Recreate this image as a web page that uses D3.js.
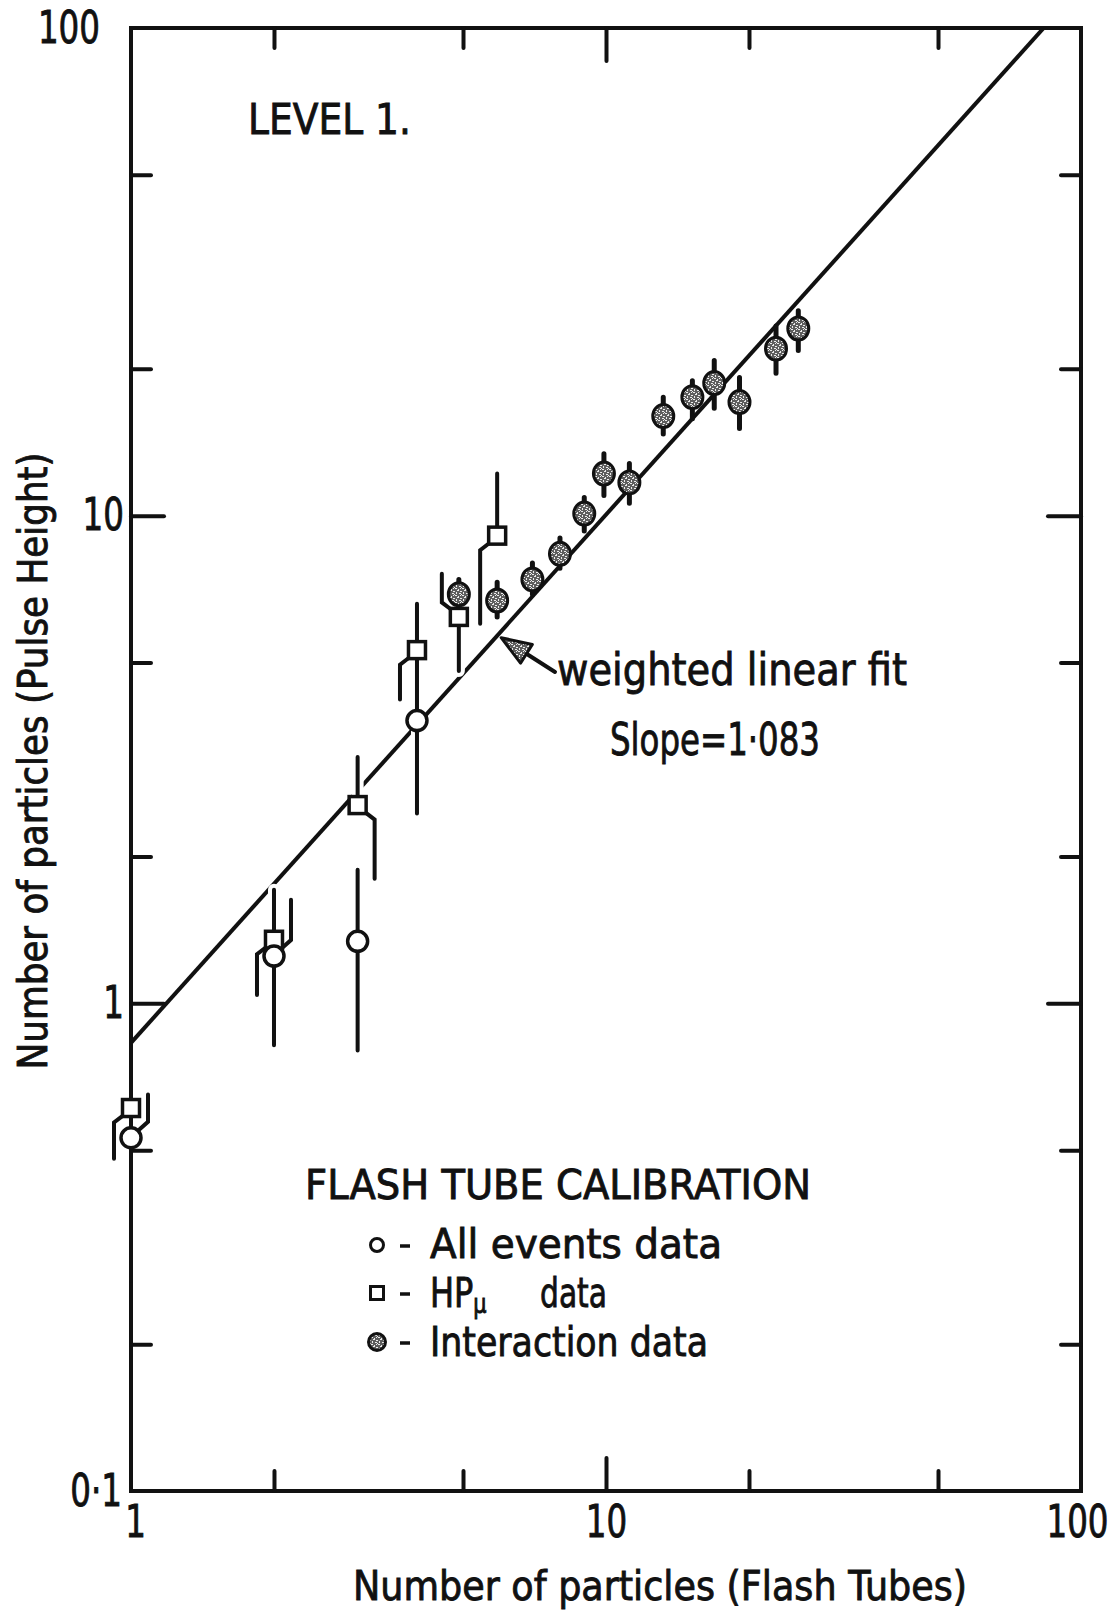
<!DOCTYPE html>
<html>
<head>
<meta charset="utf-8">
<script src="https://cdn.jsdelivr.net/npm/d3@7"></script>
<style>
  body { margin: 0; background: #fff; }
  svg { display: block; }
  text { font-family: "DejaVu Sans", sans-serif; fill: #111; stroke: #111; stroke-width: 0.9px; }
</style>
</head>
<body>
<svg id="chart" width="1116" height="1613"></svg>
<script>
// Flash tube calibration, level 1: pulse height vs flash tube particle counts

// "All events" data (open circles)
const allEventsX  = [1, 2, 3, 4];
const allEventsY  = [0.53, 1.25, 1.34, 3.8];
const allEventsLo = [0.27, 0.82, 0.80, 2.45];
const allEventsHi = [0.65, 1.63, 1.88, 5.3];

// HP-mu data (open squares)
const hpmuX  = [1, 2, 3, 4, 4.9, 5.9];
const hpmuY  = [0.61, 1.35, 2.55, 5.3, 6.2, 9.1];
const hpmuLo = [0.48, 1.04, 1.80, 4.2, 4.8, 6.0];
const hpmuHi = [0.70, 1.71, 3.2, 6.6, 7.6, 12.2];

// Interaction data (stippled discs)
const interX  = [4.9, 5.9, 7.0, 8.0, 9.0, 9.9, 11.2, 13.2, 15.2, 16.9, 19.1, 22.8, 25.4];
const interY  = [6.9, 6.7, 7.4, 8.35, 10.1, 12.2, 11.7, 16.0, 17.5, 18.7, 17.1, 22.0, 24.2];
const interLo = [6.4, 6.2, 6.9, 7.8, 9.3, 11.0, 10.6, 14.7, 15.8, 16.6, 15.1, 19.6, 21.8];
const interHi = [7.4, 7.3, 8.0, 9.0, 10.9, 13.4, 12.8, 17.5, 18.9, 20.8, 19.2, 24.5, 26.3];

// Which half of an error bar is set aside (and to which side) so it clears a neighbouring marker
const allEventsDodge = ["up+", "up+", "", ""];
const hpmuDodge      = ["lo-", "lo-", "lo+", "lo-", "up-", "lo-"];

// Weighted linear fit in log-log space
const fitSlope = 1.083;
const fitNorm  = 0.83;   // fitted value at x = 1

// Axis ticks and labels
const xTicksMinor = [2, 5, 20, 50];
const xTicksMajor = [10];
const yTicksMinor = [0.2, 0.5, 2, 5, 20, 50];
const yTicksMajor = [1, 10];
const xTickLabels = [1, 10, 100];
const yTickLabels = [0.1, 1, 10, 100];

const ink = "#111";
const svg = d3.select("#chart");

const x = d3.scaleLog().domain([1, 100]).range([131, 1081]);
const y = d3.scaleLog().domain([0.1, 100]).range([1491, 28]);

// stipple texture for the interaction markers and the arrow head
const defs = svg.append("defs");
const pat = defs.append("pattern").attr("id", "stipple")
  .attr("patternUnits", "userSpaceOnUse").attr("width", 7).attr("height", 7);
pat.append("rect").attr("width", 7).attr("height", 7).attr("fill", "#5e5e5e");
[[0, 0, 2, 1], [3, 1, 1, 2], [5, 3, 2, 1], [1, 4, 1, 2], [4, 5, 2, 1], [6, 6, 1, 1], [2, 2, 1, 1], [5, 0, 1, 1]]
  .forEach(s => pat.append("rect").attr("x", s[0]).attr("y", s[1])
    .attr("width", s[2]).attr("height", s[3]).attr("fill", "#ececec"));

defs.append("clipPath").attr("id", "plotClip").append("rect")
  .attr("x", x.range()[0]).attr("y", y.range()[1])
  .attr("width", x.range()[1] - x.range()[0]).attr("height", y.range()[0] - y.range()[1]);

// ---- fit line ----
const fit = v => fitNorm * Math.pow(v, fitSlope);
const fitEnd = Math.pow(100 / fitNorm, 1 / fitSlope);
svg.append("path")
  .datum([1, fitEnd])
  .attr("clip-path", "url(#plotClip)")
  .attr("d", d3.line().x(d => x(d)).y(d => y(fit(d))))
  .attr("fill", "none").attr("stroke", ink).attr("stroke-width", 4);

// ---- point records ----
function build(xs, ys, lo, hi, dodge, shape, half) {
  return xs.map((v, i) => ({ x: v, y: ys[i], lo: lo[i], hi: hi[i], dodge: dodge ? dodge[i] : "", shape, half }));
}
const allPts   = build(allEventsX, allEventsY, allEventsLo, allEventsHi, allEventsDodge, "circle", 10);
const hpmuPts  = build(hpmuX, hpmuY, hpmuLo, hpmuHi, hpmuDodge, "square", 8.5);
const interPts = build(interX, interY, interLo, interHi, null, "disc", 10.5);

const sideOffset = 17;
function barPath(p) {
  const cx = x(p.x), cy = y(p.y), h = p.half;
  let d = "";
  ["up", "lo"].forEach(side => {
    const end = y(side === "up" ? p.hi : p.lo);
    const dir = side === "up" ? -1 : 1;
    const s = p.dodge && p.dodge.startsWith(side) ? (p.dodge.endsWith("+") ? 1 : -1) : 0;
    if (!s) d += `M${cx},${cy}V${end}`;
    else d += `M${cx + s * h * 0.75},${cy + dir * h * 0.75}L${cx + s * sideOffset},${cy + dir * (h + 6)}V${end}`;
  });
  return d;
}

const openPts = allPts.concat(hpmuPts);

// white halo so the fit line breaks where the open-marker bars cross it
svg.append("g").selectAll("path").data(openPts).join("path")
  .attr("d", barPath).attr("fill", "none")
  .attr("stroke", "#fff").attr("stroke-width", 12).attr("stroke-linecap", "round");

// ---- frame and ticks ----
svg.append("rect")
  .attr("x", x.range()[0]).attr("y", y.range()[1])
  .attr("width", x.range()[1] - x.range()[0]).attr("height", y.range()[0] - y.range()[1])
  .attr("fill", "none").attr("stroke", ink).attr("stroke-width", 4);

function ticks(axisFn, scale, values, len, tx, ty) {
  svg.append("g").attr("transform", `translate(${tx},${ty})`)
    .call(axisFn(scale).tickValues(values).tickSize(-len).tickFormat(""))
    .call(g => g.select(".domain").remove())
    .selectAll("line").attr("stroke", ink).attr("stroke-width", 4).attr("stroke-linecap", "round");
}
const [x0, x1] = x.range(), [yb, yt] = y.range();
ticks(d3.axisLeft, y, yTicksMinor, 20, x0, 0);
ticks(d3.axisLeft, y, yTicksMajor, 33, x0, 0);
ticks(d3.axisRight, y, yTicksMinor, 20, x1, 0);
ticks(d3.axisRight, y, yTicksMajor, 33, x1, 0);
ticks(d3.axisBottom, x, xTicksMinor, 20, 0, yb);
ticks(d3.axisBottom, x, xTicksMajor, 33, 0, yb);
ticks(d3.axisTop, x, xTicksMinor, 20, 0, yt);
ticks(d3.axisTop, x, xTicksMajor, 33, 0, yt);

// narrow lettering for the tick numbers: glyphs squeezed horizontally
const fmt = d => d === 0.1 ? "0·1" : String(d);
const squeeze = 0.74;
function styleNumbers(sel, shift) {
  sel.attr("font-size", 44).attr("font-family", "DejaVu Sans").attr("fill", ink)
    .attr("transform", `scale(${squeeze},1)`)
    .attr("x", d => shift(d) / squeeze);
}

const yLab = svg.append("g").attr("transform", `translate(${x0},0)`)
  .call(d3.axisLeft(y).tickValues(yTickLabels).tickSize(0).tickPadding(7).tickFormat(fmt));
yLab.select(".domain").remove();
yLab.selectAll("text").call(styleNumbers, d => d === 100 ? -31 : d === 0.1 ? -9 : -7);

const xLab = svg.append("g").attr("transform", `translate(0,${yb})`)
  .call(d3.axisBottom(x).tickValues(xTickLabels).tickSize(0).tickPadding(15).tickFormat(fmt));
xLab.select(".domain").remove();
xLab.selectAll("text").call(styleNumbers, d => d === 100 ? -4 : d === 1 ? 4 : 0);

// ---- error bars ----
svg.append("g").selectAll("path").data(openPts).join("path")
  .attr("d", barPath).attr("fill", "none")
  .attr("stroke", ink).attr("stroke-width", 4).attr("stroke-linecap", "round");
svg.append("g").selectAll("path").data(interPts).join("path")
  .attr("d", barPath).attr("fill", "none")
  .attr("stroke", ink).attr("stroke-width", 5).attr("stroke-linecap", "round");

// ---- markers ----
svg.append("g").selectAll("rect").data(hpmuPts).join("rect")
  .attr("x", d => x(d.x) - d.half).attr("y", d => y(d.y) - d.half)
  .attr("width", d => 2 * d.half).attr("height", d => 2 * d.half)
  .attr("fill", "#fff").attr("stroke", ink).attr("stroke-width", 3.5);
svg.append("g").selectAll("circle").data(allPts).join("circle")
  .attr("cx", d => x(d.x)).attr("cy", d => y(d.y)).attr("r", d => d.half)
  .attr("fill", "#fff").attr("stroke", ink).attr("stroke-width", 3.5);
svg.append("g").selectAll("ellipse").data(interPts).join("ellipse")
  .attr("cx", d => x(d.x)).attr("cy", d => y(d.y)).attr("rx", d => d.half).attr("ry", d => d.half + 1)
  .attr("fill", "url(#stipple)").attr("stroke", ink).attr("stroke-width", 3);

// ---- annotations ----
function label(txt, px, py, size, len) {
  const t = svg.append("text").attr("x", px).attr("y", py).attr("font-size", size).text(txt);
  if (len) t.attr("textLength", len).attr("lengthAdjust", "spacingAndGlyphs");
  return t;
}

label("LEVEL 1.", 248, 134, 42, 163);

// arrow to the fit line
const tip = [x(5.9) + 4, y(fit(5.9)) + 2];
const tail = [555, 672];
const ux = tip[0] - tail[0], uy = tip[1] - tail[1], ul = Math.hypot(ux, uy);
const ex = ux / ul, ey = uy / ul;
const baseMid = [tip[0] - ex * 30, tip[1] - ey * 30];
svg.append("line").attr("x1", tail[0]).attr("y1", tail[1]).attr("x2", baseMid[0]).attr("y2", baseMid[1])
  .attr("stroke", ink).attr("stroke-width", 4).attr("stroke-linecap", "round");
svg.append("path")
  .attr("d", `M${tip[0]},${tip[1]}L${baseMid[0] - ey * 11},${baseMid[1] + ex * 11}L${baseMid[0] + ey * 11},${baseMid[1] - ex * 11}Z`)
  .attr("fill", "url(#stipple)").attr("stroke", ink).attr("stroke-width", 3).attr("stroke-linejoin", "round");

label("weighted linear fit", 557, 685, 44, 350);
label("Slope=1·083", 610, 755, 44, 210);

// ---- legend ----
label("FLASH TUBE CALIBRATION", 305, 1199, 40, 506);
const rows = [1245, 1293, 1342];
svg.append("circle").attr("cx", 377).attr("cy", rows[0]).attr("r", 6.5)
  .attr("fill", "#fff").attr("stroke", ink).attr("stroke-width", 3);
svg.append("rect").attr("x", 370.5).attr("y", rows[1] - 6.5).attr("width", 13).attr("height", 13)
  .attr("fill", "#fff").attr("stroke", ink).attr("stroke-width", 3);
svg.append("circle").attr("cx", 377).attr("cy", rows[2]).attr("r", 8.5)
  .attr("fill", "url(#stipple)").attr("stroke", ink).attr("stroke-width", 3);
rows.forEach(r => svg.append("line").attr("x1", 400).attr("x2", 410).attr("y1", r + 1).attr("y2", r + 1)
  .attr("stroke", ink).attr("stroke-width", 3.5));

label("All events data", 430, 1258, 40, 292);
const hpSqueeze = 0.8;
const hp = svg.append("text").attr("x", 430 / hpSqueeze).attr("y", 1307)
  .attr("transform", `scale(${hpSqueeze},1)`).attr("font-size", 40);
hp.append("tspan").text("HP");
hp.append("tspan").attr("dy", 6).attr("font-size", 26).text("μ");
label("data", 540, 1307, 40, 67);
label("Interaction data", 430, 1356, 40, 278);

// ---- axis titles ----
label("Number of particles (Flash Tubes)", 353, 1600, 40, 614);
svg.append("text")
  .attr("transform", "translate(47,761) rotate(-90)")
  .attr("text-anchor", "middle").attr("font-size", 40)
  .attr("textLength", 617).attr("lengthAdjust", "spacingAndGlyphs")
  .text("Number of particles (Pulse Height)");
</script>
</body>
</html>
